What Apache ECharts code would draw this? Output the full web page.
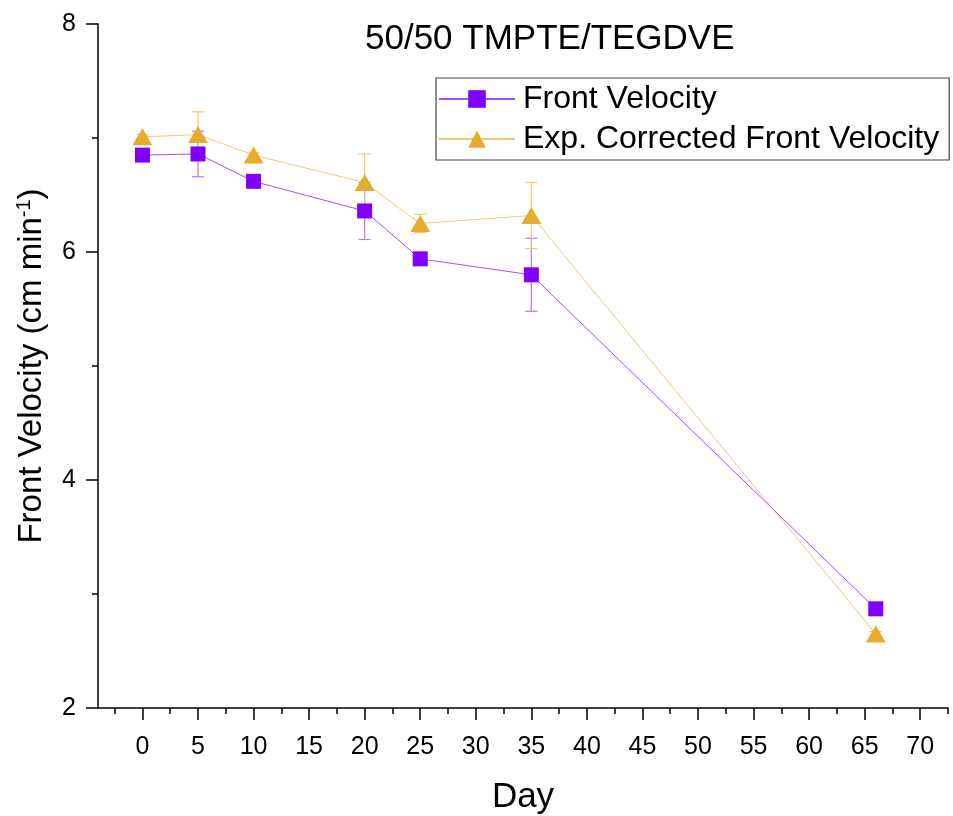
<!DOCTYPE html>
<html>
<head>
<meta charset="utf-8">
<script src="https://cdn.jsdelivr.net/npm/echarts@6/dist/echarts.min.js"></script>
<style>html,body{margin:0;padding:0;background:#fff}#c{width:953px;height:816px}</style>
</head>
<body>
<div id="c"></div>
<script>
const days = [0, 5, 10, 20, 25, 35, 66];
const frontVelocity = [6.85, 6.86, 6.62, 6.36, 5.94, 5.80, 2.87];
const frontVelocityErr = [0.03, 0.20, 0.03, 0.25, 0.03, 0.32, 0.03];
const correctedVelocity = [7.01, 7.03, 6.85, 6.61, 6.25, 6.32, 2.65];
const correctedVelocityErr = [0.02, 0.20, 0.02, 0.25, 0.08, 0.29, 0.02];
const xMajorTicks = [0, 5, 10, 15, 20, 25, 30, 35, 40, 45, 50, 55, 60, 65, 70];
const xMinorTicks = [-2.5, 2.5, 7.5, 12.5, 17.5, 22.5, 27.5, 32.5, 37.5, 42.5, 47.5, 52.5, 57.5, 62.5, 67.5, 72.5];

const purple = '#8000ff', purpleLine = '#a64dff', purpleErr = '#b875ff';
const orange = '#e6ac2e', orangeLine = '#f0c87a', orangeErr = '#f0c878';
const FONT = 'Liberation Sans, Arial, sans-serif';

function pairs(xs, ys) { return xs.map((x, i) => [x, ys[i]]); }
function errData(xs, ys, es) { return xs.map((x, i) => [x, ys[i], es[i]]); }
function errRender(color) {
  return function (params, api) {
    const x = api.value(0), y = api.value(1), e = api.value(2);
    const top = api.coord([x, y + e]);
    const bot = api.coord([x, y - e]);
    const w = 6;
    const style = { stroke: color, lineWidth: 1.2 };
    return {
      type: 'group',
      children: [
        { type: 'line', shape: { x1: top[0], y1: top[1], x2: bot[0], y2: bot[1] }, style },
        { type: 'line', shape: { x1: top[0] - w, y1: top[1], x2: top[0] + w, y2: top[1] }, style },
        { type: 'line', shape: { x1: bot[0] - w, y1: bot[1], x2: bot[0] + w, y2: bot[1] }, style }
      ]
    };
  };
}

const chart = echarts.init(document.getElementById('c'), null, { renderer: 'canvas' });
chart.setOption({
  animation: false,
  backgroundColor: '#fff',
  textStyle: { fontFamily: FONT },
  title: {
    text: '50/50 TMPTE/TEGDVE',
    left: 360, top: 17,
    textStyle: { fontSize: 35, fontWeight: 'normal', color: '#000', fontFamily: FONT }
  },
  legend: {
    orient: 'vertical',
    left: 436, top: 78,
    padding: [5, 10, 5, 2],
    itemGap: 8,
    itemWidth: 76, itemHeight: 22,
    borderColor: '#444', borderWidth: 1.2,
    textStyle: { fontSize: 32, color: '#000', fontFamily: FONT, padding: [0, 0, 0, 3] },
    data: ['Front Velocity', 'Exp. Corrected Front Velocity']
  },
  grid: { left: 98, right: 5, top: 24, bottom: 108, containLabel: false, outerBoundsMode: 'none' },
  xAxis: [{
    type: 'value', min: -4, max: 72.5,
    axisLine: { show: true, onZero: false, lineStyle: { color: '#000', width: 1.5 } },
    axisTick: { show: true, inside: false, length: 12, customValues: xMajorTicks, lineStyle: { color: '#000', width: 1.5 } },
    axisLabel: { customValues: xMajorTicks, fontSize: 25, color: '#000', margin: 27, fontFamily: FONT },
    splitLine: { show: false },
    name: 'Day', nameLocation: 'middle', nameGap: 72,
    nameTextStyle: { fontSize: 35, color: '#000', fontFamily: FONT }
  }, {
    type: 'value', min: -4, max: 72.5, position: 'bottom',
    axisLine: { show: false, onZero: false },
    axisTick: { show: true, inside: false, length: 6, customValues: xMinorTicks, lineStyle: { color: '#000', width: 1.5 } },
    axisLabel: { show: false },
    splitLine: { show: false }
  }],
  yAxis: {
    type: 'value', min: 2, max: 8, interval: 2,
    axisLine: { show: true, onZero: false, lineStyle: { color: '#000', width: 1.5 } },
    axisTick: { show: true, inside: false, length: 12, lineStyle: { color: '#000', width: 1.5 } },
    minorTick: { show: true, splitNumber: 2, length: 6, lineStyle: { color: '#000', width: 1.5 } },
    axisLabel: { fontSize: 25, color: '#000', margin: 22, fontFamily: FONT },
    splitLine: { show: false },
    name: 'Front Velocity (cm min{sup|-1})', nameLocation: 'middle', nameGap: 48,
    nameTextStyle: {
      fontSize: 33, color: '#000', fontFamily: FONT,
      rich: { sup: { fontSize: 20, verticalAlign: 'top', color: '#000', fontFamily: FONT, padding: [0, 0, 16, 0] } }
    }
  },
  series: [
    {
      name: 'err-fv', type: 'custom', renderItem: errRender(purpleErr),
      data: errData(days, frontVelocity, frontVelocityErr), z: 1, silent: true
    },
    {
      name: 'err-cv', type: 'custom', renderItem: errRender(orangeErr),
      data: errData(days, correctedVelocity, correctedVelocityErr), z: 1, silent: true
    },
    {
      name: 'Front Velocity', type: 'line', data: pairs(days, frontVelocity),
      symbol: 'rect', symbolSize: 15,
      itemStyle: { color: purple },
      lineStyle: { color: purpleLine, width: 1 },
      z: 3
    },
    {
      name: 'Exp. Corrected Front Velocity', type: 'line', data: pairs(days, correctedVelocity),
      symbol: 'triangle', symbolSize: [20, 17],
      itemStyle: { color: orange },
      lineStyle: { color: orangeLine, width: 1 },
      z: 2
    }
  ]
});
</script>
</body>
</html>
